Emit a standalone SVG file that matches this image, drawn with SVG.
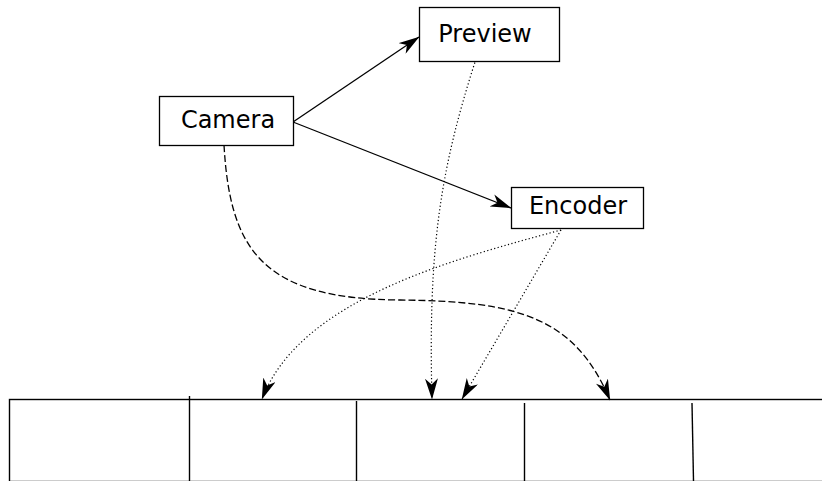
<svg xmlns="http://www.w3.org/2000/svg" width="822" height="481" viewBox="0 0 822 481">
<style>
.box{fill:#fff;stroke:#000;stroke-width:1.3}
.lbl{font-family:"DejaVu Sans",sans-serif;font-size:24px;text-anchor:middle;fill:#000}
.c{fill:none;stroke:#000;stroke-width:1.3}
.solid{marker-end:url(#ah)}
.dash{stroke-dasharray:7,3;marker-end:url(#ah)}
.dot{stroke-dasharray:1.2,2.4;stroke-width:1.2;marker-end:url(#ah)}
.grid{fill:none;stroke:#000;stroke-width:1.4}
</style>
<defs>
<marker id="ah" markerUnits="userSpaceOnUse" viewBox="0 0 21 13" refX="20.5" refY="6.5" markerWidth="21" markerHeight="13" orient="auto">
<path d="M0,0 L21,6.5 L0,13 L6,6.5 Z" fill="#000"/>
</marker>
</defs>
<rect width="822" height="481" fill="#fff"/>
<g id="buffer">
<rect class="grid" x="9.5" y="399.5" width="830" height="82"/>
<line class="grid" x1="189.5" y1="396" x2="189.5" y2="481"/>
<line class="grid" x1="356.5" y1="401" x2="356.5" y2="481"/>
<line class="grid" x1="524.5" y1="403" x2="524.5" y2="481"/>
<line class="grid" x1="692" y1="403" x2="693.5" y2="481"/>
</g>
<g id="connectors">
<path class="c solid" d="M293,122 L419,37"/>
<path class="c solid" d="M293,122 L511,208"/>
<path class="c dash" d="M224,145 C230,250 262,299 400,300 C520,301 575,318 610,400"/>
<path class="c dot" d="M476,59 C440,170 428,250 432,399"/>
<path class="c dot" d="M561,230 C450,260 300,300 262,399"/>
<path class="c dot" d="M561,230 L462,399"/>
</g>
<g id="camera">
<rect class="box" x="159.5" y="96.5" width="134" height="49"/>
<text class="lbl" x="228" y="128">Camera</text>
</g>
<g id="preview">
<rect class="box" x="419.5" y="7.5" width="140" height="54"/>
<text class="lbl" x="485" y="42">Preview</text>
</g>
<g id="encoder">
<rect class="box" x="511.5" y="187.5" width="132" height="41"/>
<text class="lbl" x="578" y="214">Encoder</text>
</g>
</svg>
